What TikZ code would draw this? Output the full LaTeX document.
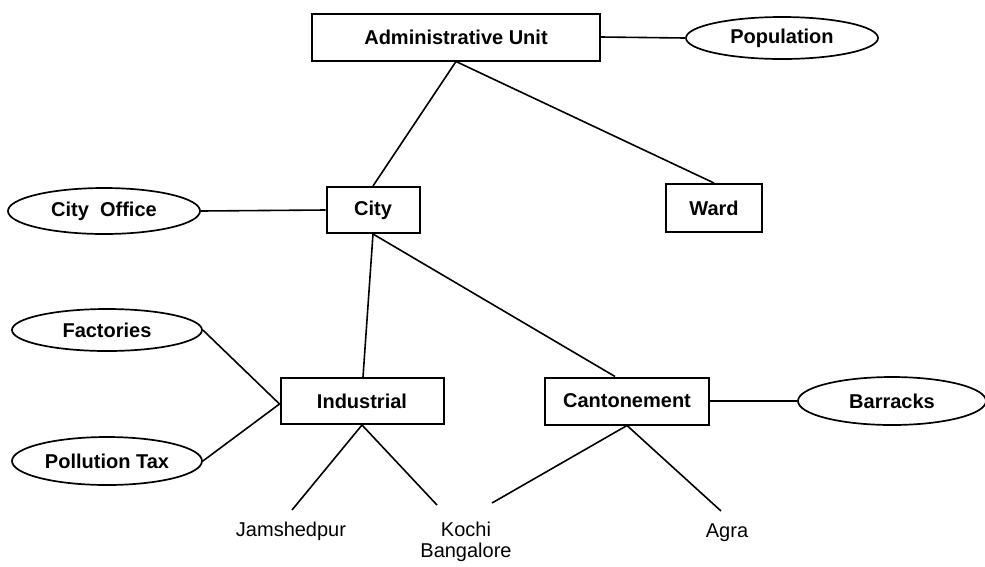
\documentclass[tikz,border=0pt]{standalone}
\usepackage{fontspec}
\setmainfont{Liberation Sans}
\usetikzlibrary{shapes.geometric}
\begin{document}
\begin{tikzpicture}[x=1pt,y=-1pt,
  entity/.style={draw, line width=2pt, rectangle, inner sep=0pt,
    font=\fontsize{20}{24}\selectfont\bfseries},
  attrib/.style={draw, line width=1.7pt, ellipse, inner sep=0pt,
    font=\fontsize{20}{24}\selectfont\bfseries},
  leaf/.style={font=\fontsize{20}{21}\selectfont, align=center, inner sep=0pt},
  link/.style={line width=1.6pt}]
\useasboundingbox (0,0) rectangle (985,566);

% entity boxes
\node[entity, minimum width=288pt, minimum height=47pt] (admin) at (456,37) {Administrative Unit};
\node[entity, minimum width=93pt, minimum height=46pt] (city) at (373,210) {City};
\node[entity, minimum width=96pt, minimum height=48pt] (ward) at (714,208) {Ward};
\node[entity, minimum width=163pt, minimum height=46pt] (ind) at (362,401) {Industrial};
\node[entity, minimum width=164pt, minimum height=47pt] (cant) at (627,401) {Cantonement};

% attribute ellipses
\node[attrib, minimum width=192pt, minimum height=42pt] (pop) at (782,38) {Population};
\node[attrib, minimum width=192pt, minimum height=46pt] (office) at (104,211) {City\ \ Office};
\node[attrib, minimum width=190pt, minimum height=42pt] (fact) at (107,330) {Factories};
\node[attrib, minimum width=190pt, minimum height=48pt] (tax) at (107,461) {Pollution Tax};
\node[attrib, minimum width=188pt, minimum height=48pt] (barr) at (892,401) {Barracks};

% instance labels
\node[leaf, anchor=base] (jam) at (291,536) {Jamshedpur};
\node[leaf, anchor=base] (koc) at (466,557) {Kochi\\Bangalore};
\node[leaf, anchor=base] (agra) at (727,537) {Agra};

% free ends of the instance lines
\coordinate (jamE) at (292,510);
\coordinate (kocE1) at (437,505);
\coordinate (kocE2) at (492,503);
\coordinate (agraE) at (721,511);

% hierarchy
\draw[link] (admin.south) -- (city.north);
\draw[link] (admin.south) -- (ward.north);
\draw[link] (admin.east) -- (pop.west);
\draw[link] (office.east) -- (city.west);
\draw[link] (city.south) -- ([xshift=1pt]ind.north);
\draw[link] (city.south) -- ([xshift=-12pt]cant.north);
\draw[link] (fact.east) -- ([yshift=-3pt]ind.west);
\draw[link] (tax.east) -- ([yshift=-3pt]ind.west);
\draw[link] (cant.east) -- (barr.west);

% instances
\draw[link] (ind.south) -- (jamE);
\draw[link] (ind.south) -- (kocE1);
\draw[link] (cant.south) -- (kocE2);
\draw[link] (cant.south) -- (agraE);
\end{tikzpicture}
\end{document}
